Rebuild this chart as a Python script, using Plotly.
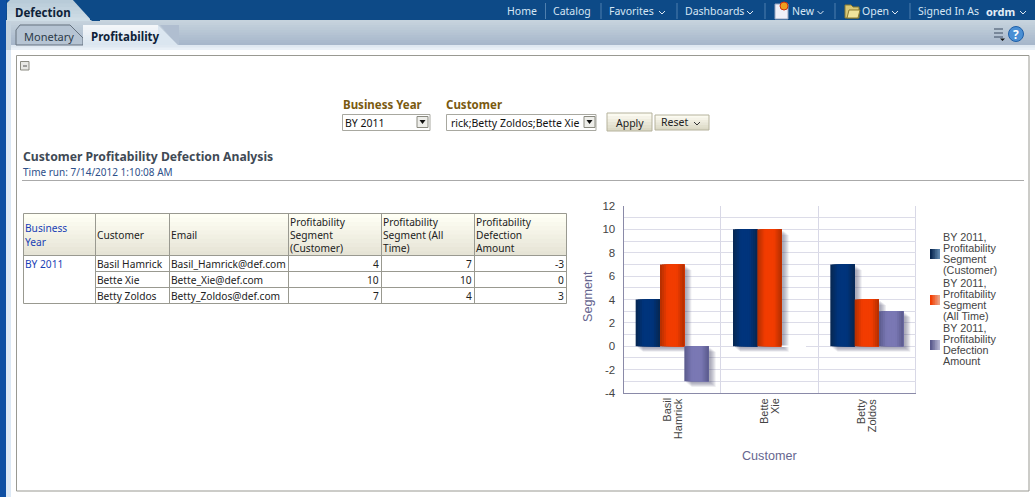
import plotly.graph_objects as go

# ---------- data ----------
customers = ["Basil Hamrick", "Bette Xie", "Betty Zoldos"]
emails = ["Basil_Hamrick@def.com", "Bette_Xie@def.com", "Betty_Zoldos@def.com"]
seg_customer = [4, 10, 7]
seg_all_time = [7, 10, 4]
defection = [-3, 0, 3]
business_year = "BY 2011"
series_names = ["BY 2011, Profitability Segment (Customer)",
                "BY 2011, Profitability Segment (All Time)",
                "BY 2011, Profitability Defection Amount"]
y_ticks = [-4, -2, 0, 2, 4, 6, 8, 10, 12]
legend_lines = [["BY 2011,", "Profitability", "Segment", "(Customer)"],
                ["BY 2011,", "Profitability", "Segment", "(All Time)"],
                ["BY 2011,", "Profitability", "Defection", "Amount"]]
table_headers = [["Business", "Year"], ["Customer"], ["Email"],
                 ["Profitability", "Segment", "(Customer)"],
                 ["Profitability", "Segment (All", "Time)"],
                 ["Profitability", "Defection", "Amount"]]
nav_items = ["Home", "Catalog", "Favorites", "Dashboards", "New", "Open", "Signed In As"]

# ---------- helpers ----------
W, H = 1035, 497
UI = "Noto Sans"
CH = "Liberation Sans"
shapes, notes = [], []
def X(p): return p / W
def Y(p): return 1 - p / H
def hexmix(a, b, t):
    a = a.lstrip("#"); b = b.lstrip("#")
    c = [round(int(a[i:i+2], 16) * (1-t) + int(b[i:i+2], 16) * t) for i in (0, 2, 4)]
    return "#%02x%02x%02x" % tuple(c)
def rect(x0, y0, x1, y1, fill=None, line=None, lw=1):
    shapes.append(dict(type="rect", xref="paper", yref="paper", x0=X(x0), x1=X(x1), y0=Y(y0), y1=Y(y1),
                       fillcolor=fill or "rgba(0,0,0,0)", line=dict(color=line or "rgba(0,0,0,0)", width=lw if line else 0),
                       layer="below"))
def hline(x0, x1, y, c, lw=1):
    shapes.append(dict(type="line", xref="paper", yref="paper", x0=X(x0), x1=X(x1), y0=Y(y), y1=Y(y),
                       line=dict(color=c, width=lw), layer="below"))
def vline(x, y0, y1, c, lw=1):
    shapes.append(dict(type="line", xref="paper", yref="paper", x0=X(x), x1=X(x), y0=Y(y0), y1=Y(y1),
                       line=dict(color=c, width=lw), layer="below"))
def poly(pts, fill=None, line=None, lw=1):
    d = "M" + " L".join(f"{X(a):.5f},{Y(b):.5f}" for a, b in pts) + (" Z" if fill else "")
    shapes.append(dict(type="path", xref="paper", yref="paper", path=d, fillcolor=fill or "rgba(0,0,0,0)",
                       line=dict(color=line or "rgba(0,0,0,0)", width=lw if line else 0), layer="below"))
def vgrad(x0, y0, x1, y1, c0, c1, n=8):
    # each band reaches the far edge, so no seams show between bands
    for i in range(n):
        rect(x0, y0 + (y1-y0)*i/n, x1, y1, hexmix(c0, c1, i/max(1, n-1)))
def hgrad(x0, y0, x1, y1, c0, c1, n=6):
    for i in range(n):
        rect(x0 + (x1-x0)*i/n, y0, x1, y1, hexmix(c0, c1, i/max(1, n-1)))
def text(x, y, s, size=11, color="#222", anchor="left", bold=False, font=UI, angle=0):
    notes.append(dict(xref="paper", yref="paper", x=X(x), y=Y(y), text=f"<b>{s}</b>" if bold else s, showarrow=False,
                      xanchor=anchor, yanchor="middle", textangle=angle,
                      font=dict(family=font, size=size, color=color), borderpad=0, borderwidth=0))
def chevron(x, y, c="#dfe9f3"):
    poly([(x-3, y-1.5), (x, y+1.5), (x+3, y-1.5)], None, c, 1)

# ---------- page chrome ----------
rect(0, 0, W, 20, "#0d4a87")
vgrad(0, 20, W, 45, "#c6d3dd", "#a7b7cb", 10)
vgrad(0, 45, W, 50, "#dfe8f1", "#e9f0f7", 2)
rect(0, 0, 6, H, "#0e4fa3")
rect(6, 50, 11, H, "#dce8f5")
rect(6, 20, 11, 50, "#c4d2de")
vgrad(7, 0, 90, 21, "#b8cbd8", "#cfdde6", 6)
poly([(72, -1), (92, 21), (100, 21), (100, -1)], "#0d4a87")
poly([(6, 20), (6, 4), (10, 0), (7, 0)], "#0e4fa3")
# tabs
poly([(16, 45), (16, 30), (20, 25), (70, 25), (83, 38), (83, 45)], "#b6c4d3", "#66727f", 1)
poly([(160, 25), (179, 25), (179, 45), (178, 45)], "#b0bed0")
vgrad(83, 25, 158, 45, "#f3f6f9", "#dbe6f0", 8)
poly([(158, 25), (178, 45), (158, 45)], "#dbe6f0")
text(15, 13, "Defection", 11.5, "#0e2238", bold=True)
text(24, 36, "Monetary", 11, "#2c3a48")
text(91, 36, "Profitability", 11.5, "#0e2238", bold=True)
# nav bar
nav_x = [507, 553, 609, 685, 791.5, 861.5, 918]
for name, x in zip(nav_items, nav_x):
    text(x, 11.5, name, 10.5, "#d6e6f4")
for x in [545.5, 601, 677, 765, 835, 910]:
    vline(x, 3, 19, "#4f7fae")
text(986, 11.5, "ordm", 11, "#e4eef7", bold=True)
for x in [662, 750, 820.5, 895, 1023]:
    chevron(x, 12.5)
rect(775, 4, 788, 19, "#f0f0f8", "#9aa6c0")
shapes.append(dict(type="circle", xref="paper", yref="paper", x0=X(780), x1=X(788), y0=Y(10), y1=Y(2),
                   fillcolor="#f0a020", line=dict(color="#d03010", width=1), layer="below"))
poly([(845, 18), (845, 5), (851, 5), (853, 7), (859, 7), (859, 18)], "#d8c878", "#8a7a30")
poly([(847, 18), (849, 10), (860, 10), (858, 18)], "#f0e49c", "#8a7a30")
# right icons
for y in (29, 33, 37):
    hline(994, 1003, y, "#3a4a60", 1)
poly([(1000, 38.5), (1005, 38.5), (1002.5, 41)], "#111111")
shapes.append(dict(type="circle", xref="paper", yref="paper", x0=X(1008.5), x1=X(1023.5), y0=Y(41.5), y1=Y(26.5),
                   fillcolor="#4a8fd4", line=dict(color="#1e5fa8", width=1), layer="below"))
text(1016, 34, "?", 12, "#ffffff", "center", bold=True)

# panel
rect(16.5, 55.5, 1029, 491, "#ffffff", "#999992", 1)
rect(20.5, 61.5, 29, 70, "#e8e8e4", "#8a8a80", 1)
hline(23, 27, 66, "#555555", 1)

# prompts
text(343, 105, "Business Year", 11.5, "#7a5a10", bold=True)
text(446, 105, "Customer", 11.5, "#7a5a10", bold=True)
rect(342.5, 114.5, 430, 130.5, "#ffffff", "#a8a8a0")
text(345, 123, business_year, 10.5, "#111")
rect(446.5, 114.5, 596, 130.5, "#ffffff", "#a8a8a0")
text(579, 123, "rick;Betty Zoldos;Bette Xie", 10.5, "#111", "right")
for x0 in (417, 584):
    rect(x0, 116.5, x0 + 11, 127.5, "#eeeeea", "#8a8a80")
    poly([(x0+2.5, 120), (x0+8.5, 120), (x0+5.5, 124)], "#111111")
vgrad(607, 113, 652, 131, "#fbfaf0", "#dcd9c6", 6)
rect(607, 113, 652, 131, None, "#b5b29c")
text(629.5, 122.5, "Apply", 10.5, "#222", "center")
vgrad(655, 115, 709, 130, "#fbfaf0", "#dcd9c6", 6)
rect(655, 115, 709, 130, None, "#b5b29c")
text(661, 122, "Reset", 10.5, "#222")
chevron(697, 123.5, "#333333")

# title
text(23, 157, "Customer Profitability Defection Analysis", 12.2, "#3f4a55", bold=True)
text(23, 172, "Time run: 7/14/2012 1:10:08 AM", 10, "#2d4f8a")
hline(22, 1024, 180.5, "#aaaaaa", 1)

# ---------- table ----------
col_x = [23.5, 95.5, 169.5, 288.5, 381.5, 474.5, 566.5]
row_y = [213.5, 255.5, 271.5, 287.5, 303.5]
vgrad(col_x[0], row_y[0], col_x[-1], row_y[1], "#fffff4", "#e6e4d6", 10)
GR = "#999990"
for y in row_y[:2] + [row_y[-1]]:
    hline(col_x[0], col_x[-1], y, GR)
for y in row_y[2:4]:
    hline(col_x[1], col_x[-1], y, GR)
for x in col_x:
    vline(x, row_y[0], row_y[-1], GR)
for i, lines in enumerate(table_headers):
    mid = 235
    for j, ln in enumerate(lines):
        y = mid + (j - (len(lines)-1)/2) * 13
        text(col_x[i] + 1.5, y, ln, 10.2, "#1a3fb5" if i == 0 else "#222")
text(col_x[0] + 1.5, 264, business_year, 10.2, "#1a3fb5")
for r in range(len(customers)):
    y = (row_y[r+1] + row_y[r+2]) / 2
    text(col_x[1] + 1.5, y, customers[r], 10.2)
    text(col_x[2] + 1.5, y, emails[r], 10.2)
    for c, vals in enumerate([seg_customer, seg_all_time, defection]):
        text(col_x[c+4] - 3, y, str(vals[r]), 10.2, anchor="right")

# ---------- chart ----------
PL, PR, PT, PB = 623.5, 915.5, 206, 393
slot = 0.25
pal = [("#07264f", "#00347c"), ("#b02e00", "#f23c00"), ("#5a5a8c", "#7a78b4")]
series = [seg_customer, seg_all_time, defection]
xs = list(range(len(customers)))
px_x = (PR - PL) / 3
px_y = (PB - PT) / 16
fig = go.Figure()
# soft drop shadows
for d in (7, 6, 5, 4, 3, 2):
    for s, vals in enumerate(series):
        dx = d / px_x
        dy = (d * 0.8) / px_y
        fig.add_trace(go.Bar(x=xs, y=[abs(v) for v in vals],
                             base=[min(v, 0) - dy for v in vals],
                             offset=-0.375 + s * slot + dx, width=slot,
                             marker=dict(color="#3c3c5a", opacity=0.085, line=dict(width=0)),
                             hoverinfo="skip", showlegend=False))
# bars: each strip reaches the right edge of its bar, the next one paints over it
N = 12
for s, vals in enumerate(series):
    for k in range(N):
        t = (k + 0.5) / N
        f = 1 - abs(2 * t - 1)
        fig.add_trace(go.Bar(x=xs, y=vals, offset=-0.375 + s * slot + k * slot / N, width=slot - k * slot / N,
                             marker=dict(color=hexmix(pal[s][0], pal[s][1], min(1, f * 1.6)), line=dict(width=0)),
                             hoverinfo="skip", showlegend=False, name=series_names[s]))
    for i, v in enumerate(vals):
        if v == 0:
            left = i - 0.375 + s * slot
            fig.add_trace(go.Scatter(x=[left, left + slot], y=[v, v], mode="lines",
                                     line=dict(color="#ffffff", width=1.5), hoverinfo="skip", showlegend=False))
# category labels
for i, c in enumerate(customers):
    parts = c.split(" ")
    for j, p in enumerate(parts):
        notes.append(dict(xref="x", yref="paper", x=i, y=Y(397), text=p, showarrow=False, textangle=-90,
                          xanchor="center", yanchor="top", xshift=(j - 0.5) * 11,
                          font=dict(family=CH, size=11, color="#444444"), borderpad=0))
text(769, 456, "Customer", 12.6, "#66668f", "center", font=CH)
text(588, 297, "Segment", 12.6, "#66668f", "center", font=CH, angle=-90)
# legend
for s, lines in enumerate(legend_lines):
    top = [249, 295, 340][s]
    hgrad(930, top, 940, top + 10, [pal[0][0], pal[1][1], pal[2][0]][s],
          ["#5f86ad", "#eba488", "#b5b5d2"][s], 6)
    y0 = [237, 283, 328][s]
    for j, ln in enumerate(lines):
        text(943, y0 + j * 11.1, ln, 10.8, "#444444", font=CH)
vline(PR, PT, PB, "#d8d8e6")

GRID = "#dcdce8"
fig.update_layout(
    template="none",
    width=W, height=H, margin=dict(l=0, r=0, t=0, b=0, pad=0, autoexpand=False), autosize=False,
    paper_bgcolor="#ffffff", plot_bgcolor="#ffffff", barmode="overlay", showlegend=False,
    shapes=shapes, annotations=notes,
    xaxis=dict(domain=[X(PL), X(PR)], range=[-0.5, 2.5], tickmode="array", tickvals=[0.5, 1.5],
               showticklabels=False, showgrid=True, gridcolor="#d8d8e6", gridwidth=1, zeroline=False,
               showline=True, linecolor="#8a8aa8", linewidth=1, ticks="", fixedrange=True, automargin=False),
    yaxis=dict(domain=[Y(PB), Y(PT)], range=[-4, 12], tickmode="array", tickvals=y_ticks,
               ticktext=[str(v) for v in y_ticks],
               ticks="outside", ticklen=5, tickcolor="rgba(0,0,0,0)", tickwidth=1,
               tickfont=dict(family=CH, size=11.5, color="#444444"), showgrid=True, gridcolor=GRID, gridwidth=1,
               minor=dict(dtick=1, tick0=0, showgrid=True, gridcolor=GRID, gridwidth=1, ticks=""),
               zeroline=False, showline=True, linecolor="#8a8aa8", linewidth=1, fixedrange=True, automargin=False),
)
fig.write_html("out.html", config=dict(displayModeBar=False),
               post_script="document.body.style.margin='0';document.body.style.overflow='hidden';")
